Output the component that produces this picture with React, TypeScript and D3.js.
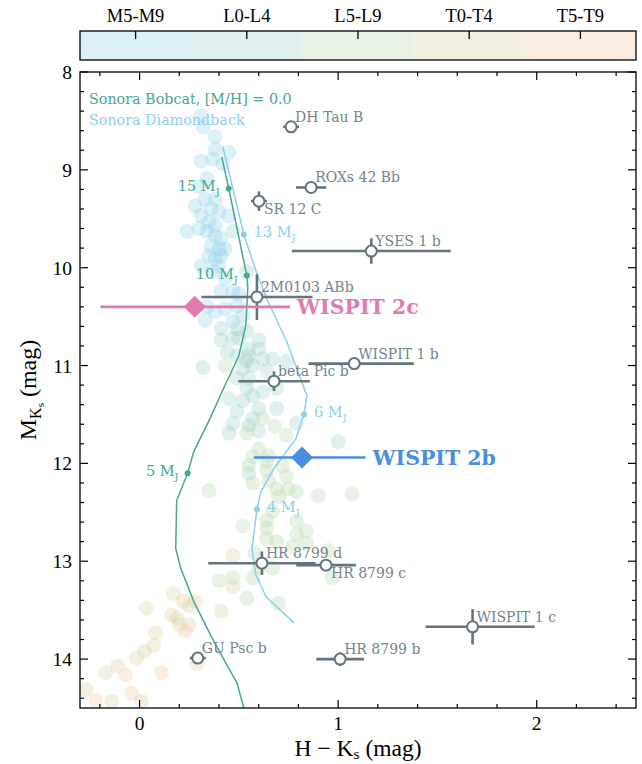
import React from "react";
import * as d3 from "d3";

// Spectral-type bins shown on the colour bar
const sptLabels = ["M5-M9", "L0-L4", "L5-L9", "T0-T4", "T5-T9"];
const sptColors = ["#8acde8", "#94cdc6", "#b2d4a5", "#d7cd9b", "#f5c3a2"];

// Field brown dwarfs per spectral bin: [H-Ks, M_Ks]
const fieldM: [number, number][] = [
  [0.31, 8.45], [0.32, 8.56], [0.38, 8.66], [0.38, 8.79], [0.45, 8.82], [0.31, 8.91],
  [0.37, 8.89], [0.42, 8.94], [0.34, 9.09], [0.3, 9.17], [0.28, 9.37], [0.33, 9.3],
  [0.38, 9.3], [0.36, 9.4], [0.4, 9.43], [0.45, 9.47], [0.31, 9.47], [0.24, 9.63],
  [0.3, 9.6], [0.35, 9.53], [0.38, 9.57], [0.34, 9.63], [0.38, 9.67], [0.41, 9.7],
  [0.36, 9.78], [0.4, 9.81], [0.43, 9.81], [0.35, 9.88], [0.38, 9.91], [0.41, 9.88],
  [0.4, 9.98], [0.37, 10.04], [0.31, 9.98], [0.43, 10.11], [0.41, 10.24], [0.47, 10.24],
  [0.5, 10.27], [0.34, 10.4], [0.33, 10.54], [0.38, 10.45], [0.43, 10.42], [0.49, 10.39],
  [0.47, 10.55], [0.52, 10.49],
];
const fieldL0: [number, number][] = [
  [0.47, 9.63], [0.54, 10.04], [0.41, 10.62], [0.49, 10.62], [0.54, 10.65], [0.41, 10.74],
  [0.47, 10.72], [0.5, 10.72], [0.6, 10.74], [0.44, 10.86], [0.55, 10.83], [0.6, 10.83],
  [0.49, 10.9], [0.55, 10.9], [0.54, 10.95], [0.62, 10.93], [0.67, 10.93], [0.74, 10.96],
  [0.32, 11.02], [0.52, 11.03], [0.57, 11.0], [0.64, 11.05], [0.49, 11.13], [0.55, 11.13],
  [0.62, 11.27], [0.54, 11.23], [0.69, 11.23], [0.45, 11.34], [0.52, 11.36], [0.57, 11.31],
  [0.69, 11.44], [0.6, 11.44], [0.49, 11.47], [0.57, 11.54], [0.47, 11.59], [0.79, 11.59],
  [0.55, 11.61], [0.45, 11.69], [0.6, 11.67], [1.0, 11.78], [0.55, 12.1],
];
const fieldL5: [number, number][] = [
  [0.43, 11.0], [0.62, 11.54], [0.54, 11.69], [0.68, 11.62], [0.74, 11.71], [0.6, 11.85],
  [0.57, 11.93], [0.65, 11.92], [0.55, 12.02], [0.64, 11.98], [0.72, 12.03], [0.64, 12.07],
  [0.74, 12.13], [0.57, 12.2], [0.65, 12.18], [0.75, 12.26], [0.69, 12.26], [0.35, 12.28],
  [0.79, 12.29], [0.9, 12.33], [1.07, 12.31], [0.7, 12.34], [0.67, 12.49], [0.64, 12.58],
  [0.52, 12.64], [0.79, 12.59], [0.64, 12.66], [0.79, 12.73], [0.84, 12.69], [0.64, 12.77],
  [0.84, 12.82], [0.69, 12.8], [0.77, 12.85], [0.95, 12.89], [0.58, 12.92], [0.6, 13.07],
  [0.67, 13.07], [0.57, 13.17], [0.4, 13.2], [0.47, 13.17], [0.97, 13.17], [0.54, 13.38],
  [0.7, 13.43],
];
const fieldT0: [number, number][] = [
  [0.47, 12.94], [0.47, 13.26], [0.41, 13.51], [0.17, 13.33], [0.22, 13.41], [0.28, 13.41],
  [0.25, 13.46], [0.035, 13.48], [0.16, 13.55], [0.19, 13.58], [0.2, 13.65], [0.25, 13.65],
  [0.08, 13.73], [0.07, 13.86], [0.025, 13.92], [-0.015, 13.99], [0.29, 14.05], [-0.11, 14.07],
  [-0.17, 14.14], [-0.27, 14.31], [-0.14, 14.43], [0.01, 14.43],
];
const fieldT5: [number, number][] = [
  [0.23, 13.71], [-0.07, 14.16], [0.11, 14.14], [-0.04, 14.35], [-0.22, 14.42],
];
const fieldBins = [fieldM, fieldL0, fieldL5, fieldT0, fieldT5];

// Sonora Bobcat track, [M/H] = 0.0: [H-Ks, M_Ks]
const bobcatTrack: [number, number][] = [
  [0.414, 8.87], [0.449, 9.19], [0.54, 10.08], [0.545, 10.21], [0.535, 10.59], [0.5, 10.9],
  [0.424, 11.23], [0.348, 11.57], [0.273, 11.88], [0.242, 12.1], [0.187, 12.38], [0.182, 12.87],
  [0.207, 13.07], [0.273, 13.41], [0.359, 13.76], [0.439, 14.06], [0.49, 14.24], [0.525, 14.5],
];
const bobcatMasses = ["15", "10", "5"];
const bobcatMassHK = [0.449, 0.54, 0.242];
const bobcatMassMK = [9.19, 10.08, 12.1];

// Sonora Diamondback track
const diamondTrack: [number, number][] = [
  [0.419, 8.76], [0.525, 9.66], [0.591, 10.06], [0.641, 10.32], [0.742, 10.76], [0.843, 11.31],
  [0.828, 11.5], [0.788, 11.745], [0.677, 12.05], [0.611, 12.29], [0.591, 12.47], [0.566, 12.87],
  [0.586, 13.14], [0.636, 13.36], [0.778, 13.63],
];
const diamondMasses = ["13", "6", "4"];
const diamondMassHK = [0.525, 0.828, 0.591];
const diamondMassMK = [9.66, 11.5, 12.47];

// Directly imaged companions
const compNames = ["DH Tau B", "ROXs 42 Bb", "SR 12 C", "YSES 1 b", "2M0103 ABb", "WISPIT 1 b",
  "beta Pic b", "HR 8799 d", "HR 8799 c", "WISPIT 1 c", "HR 8799 b", "GU Psc b"];
const compHK = [0.763, 0.864, 0.601, 1.167, 0.591, 1.081, 0.677, 0.616, 0.939, 1.677, 1.01, 0.293];
const compHKerrLo = [0.04, 0.076, 0.04, 0.4, 0.28, 0.23, 0.18, 0.27, 0.15, 0.237, 0.12, 0.04];
const compHKerrHi = [0.04, 0.076, 0.04, 0.4, 0.28, 0.3, 0.18, 0.27, 0.15, 0.313, 0.12, 0.04];
const compMK = [8.56, 9.18, 9.32, 9.83, 10.3, 10.98, 11.16, 13.02, 13.04, 13.67, 14.0, 13.99];
const compMKerr = [0.03, 0.03, 0.1, 0.13, 0.235, 0.03, 0.1, 0.12, 0.04, 0.18, 0.07, 0.03];
const compLabelBelow = [false, false, true, false, false, false, false, false, true, false, false, false];

// WISPIT 2 planets
const wispitNames = ["WISPIT 2c", "WISPIT 2b"];
const wispitHK = [0.278, 0.818];
const wispitHKerrLo = [0.475, 0.243];
const wispitHKerrHi = [0.48, 0.32];
const wispitMK = [10.4, 11.94];
const wispitColors = ["#e27ab2", "#4a8ee0"];

const xTicks = [0, 1, 2];
const yTicks = [8, 9, 10, 11, 12, 13, 14];

const W = 642;
const H = 764;
const M = { left: 80, right: 636, top: 72, bottom: 708 };
const GRAY = "#65747c";
const LABEL_GRAY = "#74848c";
const TEAL = "#45a98f";
const SKY = "#8fcfee";
const SERIF = "'DejaVu Serif', serif";
const TIMES = "'Liberation Serif', 'Times New Roman', serif";

export default function App() {
  const x = d3.scaleLinear().domain([-0.3, 2.5]).range([M.left, M.right]);
  const y = d3.scaleLinear().domain([8, 14.5]).range([M.top, M.bottom]);
  const line = d3.line<[number, number]>().x((d) => x(d[0])).y((d) => y(d[1]));

  const xMinor = d3.range(-0.2, 2.5001, 0.2).map((v) => +v.toFixed(2));
  const yMinor = d3.range(8, 14.5001, 0.2).map((v) => +v.toFixed(2));

  const cbTop = 31;
  const cbH = 29;
  const cb = d3.scaleBand<string>().domain(sptLabels).range([M.left, M.right]);

  return (
    <div style={{ position: "absolute", left: 0, top: 0 }}>
      <svg width={W} height={H} style={{ display: "block", background: "#fff" }}>
        <defs>
          <clipPath id="plotClip">
            <rect x={M.left} y={M.top} width={M.right - M.left} height={M.bottom - M.top} />
          </clipPath>
        </defs>

        {/* colour bar */}
        {sptLabels.map((lab, i) => (
          <g key={lab}>
            <rect x={cb(lab)} y={cbTop} width={cb.bandwidth()} height={cbH} fill={sptColors[i]} fillOpacity={0.3} />
            <line x1={cb(lab)! + cb.bandwidth() / 2} x2={cb(lab)! + cb.bandwidth() / 2} y1={cbTop} y2={cbTop + 8} stroke="#000" strokeWidth={1.3} />
            <text x={cb(lab)! + cb.bandwidth() / 2} y={cbTop - 9} textAnchor="middle" fontFamily={TIMES} fontSize={18.5}>{lab}</text>
          </g>
        ))}
        <rect x={M.left} y={cbTop} width={M.right - M.left} height={cbH} fill="none" stroke="#000" strokeWidth={1.3} />

        <g clipPath="url(#plotClip)">
          {/* field objects */}
          {fieldBins.map((pts, bi) =>
            pts.map((p, j) => (
              <circle key={`${bi}-${j}`} cx={x(p[0])} cy={y(p[1])} r={7.5} fill={sptColors[bi]} fillOpacity={0.3} />
            ))
          )}

          {/* evolutionary tracks */}
          <path d={line(bobcatTrack)!} fill="none" stroke={TEAL} strokeWidth={1.5} />
          <path d={line(diamondTrack)!} fill="none" stroke={SKY} strokeWidth={1.5} />
          {bobcatMasses.map((m, i) => (
            <g key={`b${m}`}>
              <circle cx={x(bobcatMassHK[i])} cy={y(bobcatMassMK[i])} r={3} fill={TEAL} />
              <text x={x(bobcatMassHK[i]) - 9} y={y(bobcatMassMK[i]) + 3} textAnchor="end" fontFamily={SERIF} fontSize={14.5} fill={TEAL}>
                {m} M<tspan fontSize={10} dy={4}>J</tspan>
              </text>
            </g>
          ))}
          {diamondMasses.map((m, i) => (
            <g key={`d${m}`}>
              <circle cx={x(diamondMassHK[i])} cy={y(diamondMassMK[i])} r={3} fill={SKY} />
              <text x={x(diamondMassHK[i]) + 10} y={y(diamondMassMK[i]) + 3} fontFamily={SERIF} fontSize={14.5} fill={SKY}>
                {m} M<tspan fontSize={10} dy={4}>J</tspan>
              </text>
            </g>
          ))}

          {/* companions with error bars */}
          {compNames.map((n, i) => {
            const cx = x(compHK[i]);
            const cy = y(compMK[i]);
            return (
              <g key={n}>
                <line x1={x(compHK[i] - compHKerrLo[i])} x2={x(compHK[i] + compHKerrHi[i])} y1={cy} y2={cy} stroke={GRAY} strokeWidth={2.6} />
                <line x1={cx} x2={cx} y1={y(compMK[i] - compMKerr[i])} y2={y(compMK[i] + compMKerr[i])} stroke={GRAY} strokeWidth={2.6} />
                <circle cx={cx} cy={cy} r={5.5} fill="#fff" stroke={GRAY} strokeWidth={2} />
                <text x={cx + (compLabelBelow[i] ? 5 : 4)} y={cy + (compLabelBelow[i] ? 13 : -5)} fontFamily={SERIF} fontSize={14} fill={LABEL_GRAY}>{n}</text>
              </g>
            );
          })}

          {/* WISPIT 2 planets */}
          {wispitNames.map((n, i) => {
            const cx = x(wispitHK[i]);
            const cy = y(wispitMK[i]);
            const s = 11;
            return (
              <g key={n}>
                <line x1={x(wispitHK[i] - wispitHKerrLo[i])} x2={x(wispitHK[i] + wispitHKerrHi[i])} y1={cy} y2={cy} stroke={wispitColors[i]} strokeWidth={2.6} />
                <path d={`M${cx},${cy - s}L${cx + s},${cy}L${cx},${cy + s}L${cx - s},${cy}Z`} fill={wispitColors[i]} />
                <text x={x(wispitHK[i] + wispitHKerrHi[i]) + 7} y={cy + 7} fontFamily={SERIF} fontWeight="bold" fontSize={20.5} fill={wispitColors[i]}>{n}</text>
              </g>
            );
          })}

          {/* legend */}
          <text x={89} y={104} fontFamily={SERIF} fontSize={14.3} fill={TEAL}>Sonora Bobcat, [M/H] = 0.0</text>
          <text x={89} y={125} fontFamily={SERIF} fontSize={14.3} fill={SKY}>Sonora Diamondback</text>
        </g>

        {/* frame and ticks */}
        <rect x={M.left} y={M.top} width={M.right - M.left} height={M.bottom - M.top} fill="none" stroke="#000" strokeWidth={1.3} />
        {xMinor.map((v) => {
          const major = xTicks.includes(v);
          const len = major ? 8 : 4;
          return (
            <g key={`xt${v}`}>
              <line x1={x(v)} x2={x(v)} y1={M.bottom} y2={M.bottom - len} stroke="#000" strokeWidth={1.2} />
              <line x1={x(v)} x2={x(v)} y1={M.top} y2={M.top + len} stroke="#000" strokeWidth={1.2} />
            </g>
          );
        })}
        {yMinor.map((v) => {
          const major = yTicks.includes(v);
          const len = major ? 8 : 4;
          return (
            <g key={`yt${v}`}>
              <line x1={M.left} x2={M.left + len} y1={y(v)} y2={y(v)} stroke="#000" strokeWidth={1.2} />
              <line x1={M.right} x2={M.right - len} y1={y(v)} y2={y(v)} stroke="#000" strokeWidth={1.2} />
            </g>
          );
        })}
        {xTicks.map((v) => (
          <text key={`xl${v}`} x={x(v)} y={730} textAnchor="middle" fontFamily={TIMES} fontSize={19.5}>{v}</text>
        ))}
        {yTicks.map((v) => (
          <text key={`yl${v}`} x={72} y={y(v) + 7} textAnchor="end" fontFamily={TIMES} fontSize={19.5}>{v}</text>
        ))}

        {/* axis titles */}
        <text x={358} y={756} textAnchor="middle" fontFamily={TIMES} fontSize={23.5}>
          H − K<tspan fontSize={15.5} dy={3}>s</tspan><tspan dy={-3}> (mag)</tspan>
        </text>
        <text transform={`translate(36,${(M.top + M.bottom) / 2}) rotate(-90)`} textAnchor="middle" fontFamily={TIMES} fontSize={24}>
          M<tspan fontSize={16} dy={5}>K</tspan><tspan fontSize={11} dy={3}>s</tspan><tspan dy={-8}> (mag)</tspan>
        </text>
      </svg>
    </div>
  );
}
